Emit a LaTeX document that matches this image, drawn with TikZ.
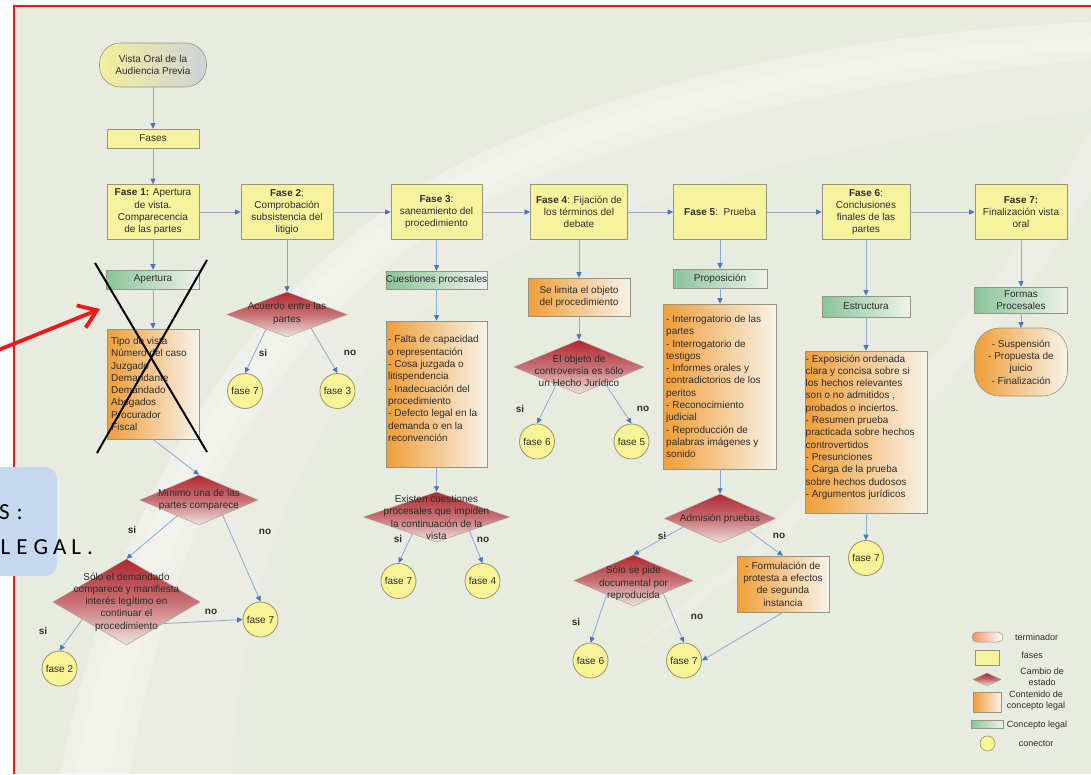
\documentclass[tikz,border=0pt]{standalone}
\usepackage{fontspec}
\setmainfont{Liberation Sans}
\newfontfamily\calloutfont{Carlito}
\usetikzlibrary{shapes.geometric,arrows.meta,calc}

% palette
\definecolor{bgsage}{RGB}{232,235,224}
\definecolor{framered}{RGB}{238,24,24}
\definecolor{faseyel}{RGB}{247,242,158}
\definecolor{conyel}{RGB}{248,243,150}
\definecolor{boxedge}{RGB}{150,150,128}
\definecolor{conedge}{RGB}{150,150,100}
\definecolor{termyel}{RGB}{244,238,156}
\definecolor{termgray}{RGB}{205,211,216}
\definecolor{grnL}{RGB}{138,196,153}
\definecolor{grnR}{RGB}{238,242,236}
\definecolor{orgL}{RGB}{240,158,56}
\definecolor{orgR}{RGB}{248,243,234}
\definecolor{redT}{RGB}{176,40,48}
\definecolor{redM}{RGB}{200,112,116}
\definecolor{redB}{RGB}{236,228,224}
\definecolor{decedge}{RGB}{175,150,150}
\definecolor{linkline}{RGB}{142,168,208}
\definecolor{linkhead}{RGB}{70,118,192}
\definecolor{inktext}{RGB}{45,45,45}
\definecolor{callblue}{RGB}{198,217,241}
\definecolor{legorange}{RGB}{238,150,100}

\tikzset{
  txt/.style={font=\fontsize{10}{12.3}\selectfont, text=inktext, align=center},
  fasebox/.style={txt, draw=boxedge, line width=0.6pt, fill=faseyel, inner sep=0pt, minimum height=55pt},
  conceptbox/.style={txt, draw=boxedge, line width=0.6pt, left color=grnL, right color=grnR, inner sep=0pt, minimum height=19pt},
  contentbox/.style={txt, draw=boxedge, line width=0.6pt, left color=orgL, right color=orgR, inner sep=0pt},
  listtext/.style={font=\fontsize{10}{12.3}\selectfont, text=inktext, align=left, inner sep=0pt, anchor=north west},
  decision/.style={diamond, draw=decedge, line width=0.4pt, top color=redT, bottom color=redB, middle color=redM, inner sep=0pt},
  dectext/.style={txt, inner sep=0pt},
  connector/.style={circle, draw=conedge, line width=0.8pt, fill=conyel, minimum size=35pt, inner sep=0pt, txt},
  answer/.style={font=\bfseries\fontsize{10}{12}\selectfont, text=inktext, inner sep=0pt},
  link/.style={draw=linkline, line width=0.8pt, -{Triangle[length=5.5pt,width=5pt,color=linkhead]}},
  legtext/.style={font=\fontsize{9}{10.7}\selectfont, text=inktext, align=center, inner sep=0pt},
  glow/.style={fill=white, opacity=#1},
}

\begin{document}
\begin{tikzpicture}[x=1pt,y=-1pt]
\useasboundingbox (0,0) rectangle (1091,774);
\fill[white] (0,0) rectangle (1091,774);
\fill[bgsage] (14,6) rectangle (1091,774);

% soft light sweeps of the backdrop
\fill[glow=0.14] (60,774) .. controls (110,520) and (230,300) .. (430,180)
   .. controls (620,70) and (900,30) .. (1091,22) -- (1091,110)
   .. controls (900,130) and (640,190) .. (500,260)
   .. controls (330,350) and (250,520) .. (230,774) -- cycle;
\fill[glow=0.2] (60,774) .. controls (110,520) and (230,300) .. (430,180)
   .. controls (620,70) and (900,30) .. (1091,22) -- (1091,60)
   .. controls (900,75) and (640,120) .. (460,215)
   .. controls (280,320) and (170,520) .. (130,774) -- cycle;
\fill[glow=0.15] (75,774) .. controls (125,520) and (240,310) .. (435,190)
   .. controls (620,85) and (900,45) .. (1091,38) -- (1091,50)
   .. controls (900,62) and (630,105) .. (452,205)
   .. controls (265,315) and (155,520) .. (110,774) -- cycle;
\fill[glow=0.18] (1091,130) .. controls (1000,290) and (860,460) .. (620,660)
   .. controls (880,480) and (1020,320) .. (1091,190) -- cycle;

\draw[framered, line width=1.6pt] (14,774) -- (14,6) -- (1091,6);

% start terminator and phase row
\node[txt, draw=boxedge, line width=0.6pt, rounded corners=21pt, left color=termyel, right color=termgray,
      minimum width=107pt, minimum height=44pt, inner sep=0pt] (start) at (153,65) {Vista Oral de la\\Audiencia Previa};
\node[fasebox, minimum width=92pt, minimum height=19pt] (fases) at (153,138.5) {Fases};

\node[fasebox, minimum width=92pt] (f1) at (153,212) {\textbf{Fase 1:} Apertura\\de vista.\\Comparecencia\\de las partes};
\node[fasebox, minimum width=92pt] (f2) at (287,212) {\textbf{Fase 2}:\\Comprobación\\subsistencia del\\litigio};
\node[fasebox, minimum width=91pt] (f3) at (436.5,212) {\textbf{Fase 3}:\\saneamiento del\\procedimiento};
\node[fasebox, minimum width=97pt] (f4) at (579,212) {\textbf{Fase 4}: Fijación de\\los términos del\\debate};
\node[fasebox, minimum width=93pt] (f5) at (720,212) {\textbf{Fase 5}:\ \ Prueba};
\node[fasebox, minimum width=88pt] (f6) at (866,212) {\textbf{Fase 6}:\\Conclusiones\\finales de las\\partes};
\node[fasebox, minimum width=92pt] (f7) at (1021,212) {\textbf{Fase 7:}\\Finalización vista\\oral};

% phase 1
\node[conceptbox, minimum width=93pt] (apertura) at (153,279.5) {Apertura};
\node[contentbox, minimum width=92pt, minimum height=110pt] (tipo) at (153,384) {};
\node[listtext] (tipotxt) at (111,337) {Tipo de vista\\Número del caso\\Juzgado\\Demandante\\Demandado\\Abogados\\Procurador\\Fiscal};
\node[decision, minimum width=118pt, minimum height=50pt] (minimo) at (199,500) {};
\node[dectext] (minimotxt) at (minimo) {Mínimo una de las\\partes comparece};
\node[decision, minimum width=147pt, minimum height=86pt] (solodem) at (126.5,602) {};
\node[dectext] (solodemtxt) at (solodem) {Sólo el demandado\\comparece y manifiesta\\interés legítimo en\\continuar el\\procedimiento};
\node[connector] (c1f7) at (260.5,619.5) {fase 7};
\node[connector] (c1f2) at (59.5,668.5) {fase 2};

% phase 2
\node[decision, minimum width=120pt, minimum height=45pt] (acuerdo) at (287,314.5) {};
\node[dectext] (acuerdotxt) at (287,313.5) {Acuerdo entre las\\partes};
\node[connector] (c2f7) at (245,391) {fase 7};
\node[connector] (c2f3) at (337.5,391) {fase 3};

% phase 3
\node[conceptbox, minimum width=101pt, minimum height=18pt] (cuestiones) at (436.5,280) {Cuestiones procesales};
\node[contentbox, minimum width=101pt, minimum height=146pt] (cuelist) at (436.5,394) {};
\node[listtext] (cuelisttxt) at (388,335.5) {- Falta de capacidad\\o representación\\- Cosa juzgada o\\litispendencia\\- Inadecuación del\\procedimiento\\- Defecto legal en la\\demanda o en la\\reconvención};
\node[decision, minimum width=146pt, minimum height=50pt] (existen) at (436.5,517) {};
\node[dectext] (existentxt) at (436.5,517.5) {Existen cuestiones\\procesales que impiden\\la continuación de la\\vista};
\node[connector] (c3f7) at (398.5,581) {fase 7};
\node[connector] (c3f4) at (482.5,581) {fase 4};

% phase 4
\node[contentbox, minimum width=102pt, minimum height=38pt] (selimita) at (579,297) {Se limita el objeto\\del procedimiento};
\node[decision, minimum width=130pt, minimum height=54pt] (objeto) at (579,367) {};
\node[dectext] (objetotxt) at (579,371) {El objeto de\\controversia es sólo\\un Hecho Jurídico};
\node[connector] (c4f6) at (537,441.5) {fase 6};
\node[connector] (c4f5) at (631.5,441.5) {fase 5};

% phase 5
\node[conceptbox, minimum width=94pt] (proposicion) at (720,278.5) {Proposición};
\node[contentbox, minimum width=113pt, minimum height=165pt] (proplist) at (720,386.5) {};
\node[listtext] (proplisttxt) at (666,315) {- Interrogatorio de las\\partes\\- Interrogatorio de\\testigos\\- Informes orales y\\contradictorios de los\\peritos\\- Reconocimiento\\judicial\\- Reproducción de\\palabras imágenes y\\sonido};
\node[decision, minimum width=111pt, minimum height=49pt] (admision) at (720,518.5) {};
\node[dectext] (admisiontxt) at (admision) {Admisión pruebas};
\node[decision, minimum width=119pt, minimum height=51pt] (solopide) at (633.5,580.5) {};
\node[dectext] (solopidetxt) at (633.5,583.5) {Sólo se pide\\documental por\\reproducida};
\node[contentbox, minimum width=92pt, minimum height=56pt] (formulacion) at (783,584) {- Formulación de\\protesta a efectos\\de segunda\\instancia};
\node[connector] (c5f6) at (590.5,660.5) {fase 6};
\node[connector] (c5f7) at (684,660.5) {fase 7};

% phase 6
\node[conceptbox, minimum width=88pt, minimum height=21pt] (estructura) at (866,306.5) {Estructura};
\node[contentbox, minimum width=122pt, minimum height=162pt] (estlist) at (866,432) {};
\node[listtext] (estlisttxt) at (805.5,354.5) {- Exposición ordenada\\clara y concisa sobre si\\los hechos relevantes\\son o no admitidos ,\\probados o inciertos.\\- Resumen prueba\\practicada sobre hechos\\controvertidos\\- Presunciones\\- Carga de la prueba\\sobre hechos dudosos\\- Argumentos jurídicos};
\node[connector] (c6f7) at (866,558) {fase 7};

% phase 7
\node[conceptbox, minimum width=93pt, minimum height=26pt, font=\fontsize{10}{12.6}\selectfont] (formas) at (1021,300) {Formas\\Procesales};
\node[txt, draw=boxedge, line width=0.6pt, rounded corners=25pt, left color=orgL, right color=orgR,
      minimum width=93pt, minimum height=68pt, inner sep=0pt] (fin) at (1021,362) {- Suspensión\\- Propuesta de\\juicio\\- Finalización};

% answer labels
\node[answer] (a1) at (263,353) {si};
\node[answer] (a2) at (350,353) {no};
\node[answer] (a3) at (132,530) {si};
\node[answer] (a4) at (265,532) {no};
\node[answer] (a5) at (211,612) {no};
\node[answer] (a6) at (43,631) {si};
\node[answer] (a7) at (398,539) {si};
\node[answer] (a8) at (483,540) {no};
\node[answer] (a9) at (520,409) {si};
\node[answer] (a10) at (643,409) {no};
\node[answer] (a11) at (662,536) {si};
\node[answer] (a12) at (779,536) {no};
\node[answer] (a13) at (576,622) {si};
\node[answer] (a14) at (697,617) {no};

% connectors
\draw[link] (start) -- (fases);
\draw[link] (fases) -- (f1);
\foreach \a/\b in {f1/f2,f2/f3,f3/f4,f4/f5,f5/f6,f6/f7} \draw[link] (\a) -- (\b);

\draw[link] (f1.south) -- (apertura.north);
\draw[link] (apertura.south) -- (tipo.north);
\draw[link] (tipo.south) -- (minimo.north);
\draw[link] ($(minimo.south)!0.37!(minimo.west)$) -- (solodem.north);
\draw[link] ($(minimo.south)!0.4!(minimo.east)$) -- (c1f7.north);
\draw[link] ($(solodem.south)!0.5!(solodem.east)$) -- (c1f7.west);
\draw[link] ($(solodem.south)!0.6!(solodem.west)$) -- (c1f2.north);

\draw[link] (f2.south) -- (acuerdo.north);
\draw[link] ($(acuerdo.south)!0.35!(acuerdo.west)$) -- (c2f7.north);
\draw[link] ($(acuerdo.south)!0.4!(acuerdo.east)$) -- (c2f3.north);

\draw[link] (f3.south) -- (cuestiones.north);
\draw[link] (cuestiones.south) -- (cuelist.north);
\draw[link] (cuelist.south) -- (existen.north);
\draw[link] ($(existen.south)!0.33!(existen.west)$) -- (c3f7.north);
\draw[link] ($(existen.south)!0.45!(existen.east)$) -- (c3f4.north);

\draw[link] (f4.south) -- (selimita.north);
\draw[link] (selimita.south) -- (objeto.north);
\draw[link] ($(objeto.south)!0.35!(objeto.west)$) -- (c4f6.north);
\draw[link] ($(objeto.south)!0.4!(objeto.east)$) -- (c4f5.north);

\draw[link] (f5.south) -- (proposicion.north);
\draw[link] (proposicion.south) -- (proplist.north);
\draw[link] (proplist.south) -- (admision.north);
\draw[link] ($(admision.south)!0.66!(admision.west)$) -- (solopide.north);
\draw[link] ($(admision.south)!0.51!(admision.east)$) -- (formulacion.north);
\draw[link] ($(solopide.south)!0.45!(solopide.west)$) -- (c5f6.north);
\draw[link] ($(solopide.south)!0.5!(solopide.east)$) -- (c5f7.north);
\draw[link] (formulacion.south) -- (c5f7.east);

\draw[link] (f6.south) -- (estructura.north);
\draw[link] (estructura.south) -- (estlist.north);
\draw[link] (estlist.south) -- (c6f7.north);

\draw[link] (f7.south) -- (formas.north);
\draw[link] (formas.south) -- (fin.north);

% legend
\node[draw=boxedge, line width=0.5pt, rounded corners=5pt, left color=legorange, right color=white,
      minimum width=31pt, minimum height=10pt, inner sep=0pt] (legtermicon) at (987.5,637) {};
\node[draw=boxedge, line width=0.5pt, fill=faseyel, minimum width=24pt, minimum height=15pt, inner sep=0pt] (legfaseicon) at (987,657.5) {};
\node[decision, minimum width=28pt, minimum height=13pt] (legdecicon) at (987,679.5) {};
\node[draw=boxedge, line width=0.5pt, left color=orgL, right color=orgR, minimum width=28pt, minimum height=20pt, inner sep=0pt] (legconticon) at (987,702) {};
\node[draw=boxedge, line width=0.5pt, left color=grnL, right color=grnR, minimum width=32pt, minimum height=8pt, inner sep=0pt] (legconcicon) at (987,724) {};
\node[circle, draw=conedge, line width=0.6pt, fill=conyel, minimum size=15pt, inner sep=0pt] (legconnicon) at (987.5,743.5) {};
\node[legtext] (legterm) at (1036.5,637) {terminador};
\node[legtext] (legfase) at (1032,655.5) {fases};
\node[legtext] (legdec) at (1042,676.5) {Cambio de\\estado};
\node[legtext] (legcont) at (1036,700.5) {Contenido de\\concepto legal};
\node[legtext] (legconc) at (1037,725) {Concepto legal};
\node[legtext] (legconn) at (1036,743.5) {conector};

% annotations: struck-out block, pointer and side note
\draw[black, line width=2pt] (95,263) -- (207,452);
\draw[black, line width=2pt] (207,260) -- (97,453);
\coordinate (pointtail) at (-4,351);
\coordinate (pointtip) at (100,309);
\draw[framered, line width=3.8pt, -{Straight Barb[length=17pt,width=24pt]}] (pointtail) -- (pointtip);

\fill[callblue, rounded corners=12pt] (-30,467) rectangle (57,576);
\node[anchor=base west, inner sep=0pt, font=\calloutfont\fontsize{23}{23}\selectfont, text=black] (noteA) at (-1,519) {S\hspace{7pt}:};
\node[anchor=base west, inner sep=0pt, font=\calloutfont\fontsize{23}{23}\selectfont, text=black] (noteB) at (0.5,554) {L\hspace{6pt}E\hspace{6pt}G\hspace{5pt}A\hspace{5pt}L\hspace{6pt}.};
\end{tikzpicture}
\end{document}
